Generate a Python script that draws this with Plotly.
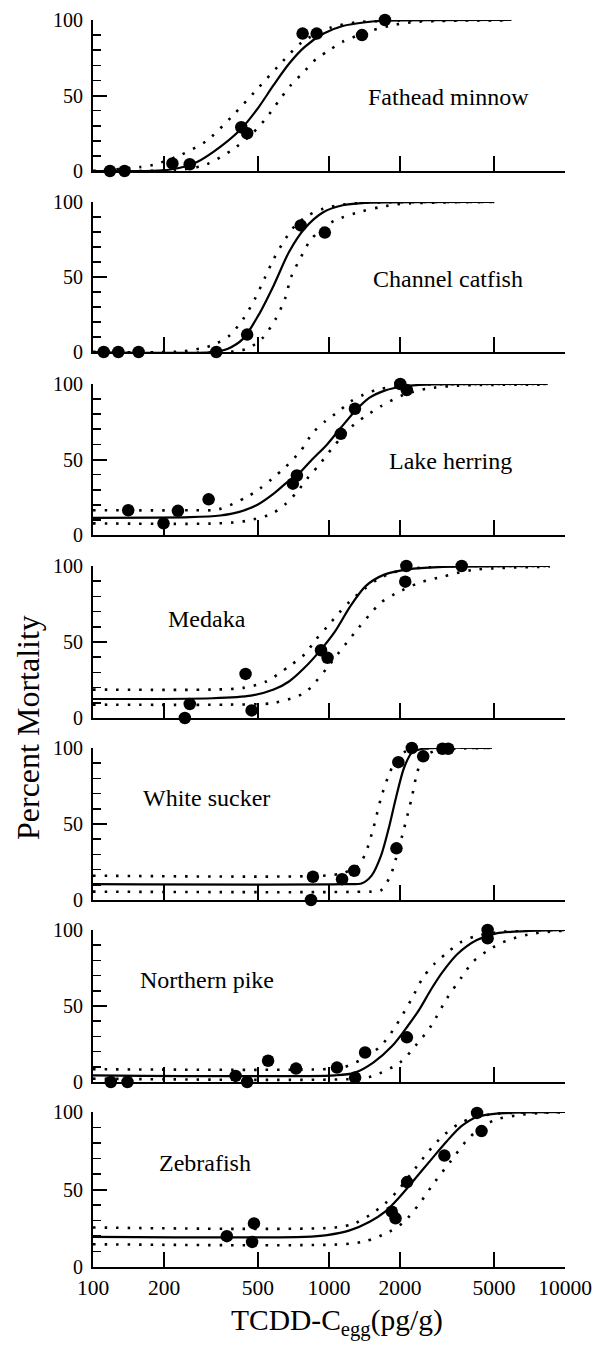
import numpy as np
import plotly.graph_objects as go

# ---------------- data ----------------
species = ["Fathead minnow", "Channel catfish", "Lake herring", "Medaka",
           "White sucker", "Northern pike", "Zebrafish"]

tick_vals = [100, 200, 500, 1000, 2000, 5000, 10000]
tick_text = ["100", "200", "500", "1000", "2000", "5000", "10000"]

# Fathead minnow
fathead_x = [118, 136, 217, 257, 425, 450, 773, 887, 1380, 1726]
fathead_y = [0, 0, 5, 4.5, 29, 25, 91, 91, 90, 100]
fathead_fit_x = [100, 213, 276, 346, 425, 502, 583, 677, 787, 949, 1143, 1430, 1726, 5930]
fathead_fit_y = [0, 1, 6, 16, 28, 42, 57, 71, 82, 91, 96, 98.5, 99.5, 100]
fathead_hi_x = [100, 160, 183, 236, 303, 387, 488, 606, 773, 1020, 1300, 1920, 5660]
fathead_hi_y = [0, 2.7, 4.4, 10.7, 20, 36, 53, 69, 85.6, 95, 98.4, 99.6, 100]
fathead_lo_x = [100, 238, 303, 389, 467, 542, 616, 691, 787, 880, 1003, 1143, 1515, 1920, 2410, 5930]
fathead_lo_y = [0, 1, 4.4, 14, 24, 35, 47, 57, 66, 74, 80, 85.6, 93, 97, 98.9, 99.8]

# Channel catfish
catfish_x = [111, 128, 156, 333, 450, 759, 960]
catfish_y = [0, 0, 0, 0, 11.6, 84.4, 79.6]
catfish_fit_x = [100, 321, 373, 433, 502, 583, 677, 787, 949, 1143, 1380, 5012]
catfish_fit_y = [0, 0, 2.2, 8.9, 24.4, 44.4, 66.7, 82.2, 93.3, 97.8, 99.3, 100]
catfish_hi_x = [100, 237, 298, 333, 379, 433, 486, 533, 583, 639, 716, 816, 949, 1143, 1430, 5012]
catfish_hi_y = [0, 0.4, 3, 5.6, 11, 22, 35.6, 49, 62, 73, 84, 91, 95.6, 98.2, 99.5, 100]
catfish_lo_x = [100, 373, 450, 521, 594, 651, 691, 759, 833, 931, 1061, 1380, 1660, 2080, 5012]
catfish_lo_y = [0, 0, 2.2, 9, 22, 35.6, 50, 63, 74.4, 82, 87.8, 93.8, 96.7, 98.9, 100]

# Lake herring
herring_x = [141, 199, 229, 309, 703, 731, 1122, 1288, 2004, 2136]
herring_y = [16.4, 7.7, 16, 23.6, 34, 39.4, 67, 83.6, 100, 96]
herring_fit_x = [100, 257, 346, 417, 502, 583, 677, 731, 848, 982, 1122, 1288, 1480, 1720, 2080, 2600, 8450]
herring_fit_y = [11.4, 11.8, 12.9, 15.3, 20.4, 27.4, 36, 39.4, 50, 60, 71, 82, 90.8, 95.6, 98.5, 99.6, 100]
herring_hi_x = [100, 257, 340, 449, 508, 573, 653, 759, 855, 967, 1102, 1241, 1405, 1602, 1932, 2418, 8450]
herring_hi_y = [16.4, 16.4, 17, 25.2, 30.6, 37.2, 44.9, 55.8, 67.8, 75.5, 82, 88.6, 93, 96.3, 98.5, 99.6, 100]
herring_lo_x = [100, 340, 449, 573, 653, 731, 818, 914, 1024, 1143, 1279, 1431, 1663, 2080, 2605, 3510, 8450]
herring_lo_y = [7.7, 7.7, 9.4, 14.2, 20.4, 28.4, 38.3, 47, 56.9, 65.6, 73.3, 78.8, 85.3, 93, 96.9, 98.9, 99.6]

# Medaka
medaka_x = [245, 257, 443, 470, 925, 986, 2127, 2104, 3650]
medaka_y = [0, 9.2, 29, 5, 44.6, 39.6, 100, 89.7, 100]
medaka_fit_x = [100, 321, 467, 583, 677, 787, 913, 1061, 1232, 1430, 1726, 2160, 2910, 8610]
medaka_fit_y = [12.5, 13, 14.7, 18.7, 24, 33, 44, 57, 73.6, 86.8, 94.5, 97.8, 99.3, 100]
medaka_hi_x = [100, 321, 433, 542, 677, 787, 880, 982, 1101, 1232, 1405, 1600, 1860, 2240, 2910, 8610]
medaka_hi_y = [18.7, 18.7, 19.8, 24, 34, 41.8, 51.6, 60, 69, 77, 84.6, 91, 95.6, 98.2, 99.6, 100]
medaka_lo_x = [100, 373, 583, 787, 880, 982, 1101, 1188, 1330, 1487, 1660, 1920, 2420, 3030, 4070, 8610]
medaka_lo_y = [8.8, 8.8, 9.9, 16.5, 24, 33, 43, 49.5, 59, 68, 76, 82, 89, 93, 97.4, 99.6]

# White sucker
sucker_x = [855, 839, 1136, 1279, 1931, 1967, 2243, 2507, 3024, 3200]
sucker_y = [15.3, 0, 13.7, 19.2, 34, 90.7, 100, 94.5, 99.5, 99.5]
sucker_fit_x = [100, 1143, 1380, 1515, 1660, 1790, 1920, 2080, 2240, 2507, 4900]
sucker_fit_y = [10.4, 10.4, 11, 16, 29, 47, 67, 87, 96.7, 99.5, 100]
sucker_hi_x = [100, 948, 1143, 1330, 1430, 1540, 1660, 1790, 1920, 2110, 2410, 4900]
sucker_hi_y = [16, 16, 17.7, 22.6, 31, 47, 67, 82, 92, 97.8, 99.6, 100]
sucker_lo_x = [100, 1380, 1660, 1820, 1920, 2080, 2240, 2370, 2507, 2810, 3500, 4900]
sucker_lo_y = [5.5, 5.5, 6.4, 16, 27, 47, 67, 84.5, 93.4, 98.2, 99.6, 100]

# Northern pike
pike_x = [119, 140, 402, 450, 552, 725, 1081, 1290, 1422, 2138, 4700, 4700]
pike_y = [0, 0, 4, 0, 14, 8.8, 9.5, 2.9, 19.4, 29.4, 100, 94.5]
pike_fit_x = [100, 1061, 1279, 1540, 1860, 2160, 2420, 2710, 3030, 3520, 4230, 5120, 6880, 10000]
pike_fit_y = [4.4, 4.4, 6, 12.8, 24, 37, 48, 61, 72.4, 84.5, 93.4, 97.8, 99.3, 100]
pike_hi_x = [100, 948, 1143, 1380, 1660, 1920, 2240, 2510, 2810, 3200, 3650, 4230, 5520, 7430, 10000]
pike_hi_y = [8.4, 8.4, 9.5, 15, 23.8, 37, 54.7, 69, 78, 85.7, 92.3, 96.2, 98.9, 99.8, 100]
pike_lo_x = [100, 1330, 1540, 2000, 2330, 2710, 3150, 3650, 4070, 4740, 5740, 7430, 10000]
pike_lo_y = [2.2, 2.2, 4, 12.8, 24, 37, 54.7, 69, 79, 86.8, 93.4, 97.8, 99.6]

# Zebrafish
zebra_x = [369, 481, 472, 1845, 2143, 1914, 3083, 4240, 4430]
zebra_y = [19.9, 28.1, 16.2, 35.7, 54.8, 31.4, 71.9, 99.4, 87.7]
zebra_fit_x = [100, 787, 982, 1232, 1487, 1730, 2000, 2330, 2710, 3150, 3650, 4230, 5120, 10000]
zebra_fit_y = [19.5, 19.5, 20.6, 23.8, 29.2, 35.7, 45.5, 57.4, 69.3, 81, 91, 96.8, 99, 100]
zebra_hi_x = [100, 1061, 1279, 1487, 1730, 1940, 2240, 2610, 3030, 3520, 4080, 5120, 10000]
zebra_hi_y = [25.5, 25.5, 28, 33.5, 41, 48.7, 60.6, 73.6, 84.4, 92, 96.3, 98.9, 100]
zebra_lo_x = [100, 1143, 1430, 1800, 2080, 2420, 2810, 3270, 3800, 4400, 5120, 6370, 8000, 10000]
zebra_lo_y = [14.7, 14.7, 16.7, 22.7, 29.2, 41, 55, 68, 81, 90, 95.2, 98, 99.4, 99.8]

# species label positions (x in pg/g, y in %)
label_x = [3220, 3190, 3260, 304, 304, 304, 298]
label_y = [49, 49, 49, 65, 67, 67, 67]

# ---------------- figure ----------------
panels = [
    (fathead_x, fathead_y, fathead_fit_x, fathead_fit_y, fathead_hi_x, fathead_hi_y, fathead_lo_x, fathead_lo_y),
    (catfish_x, catfish_y, catfish_fit_x, catfish_fit_y, catfish_hi_x, catfish_hi_y, catfish_lo_x, catfish_lo_y),
    (herring_x, herring_y, herring_fit_x, herring_fit_y, herring_hi_x, herring_hi_y, herring_lo_x, herring_lo_y),
    (medaka_x, medaka_y, medaka_fit_x, medaka_fit_y, medaka_hi_x, medaka_hi_y, medaka_lo_x, medaka_lo_y),
    (sucker_x, sucker_y, sucker_fit_x, sucker_fit_y, sucker_hi_x, sucker_hi_y, sucker_lo_x, sucker_lo_y),
    (pike_x, pike_y, pike_fit_x, pike_fit_y, pike_hi_x, pike_hi_y, pike_lo_x, pike_lo_y),
    (zebra_x, zebra_y, zebra_fit_x, zebra_fit_y, zebra_hi_x, zebra_hi_y, zebra_lo_x, zebra_lo_y),
]

W, H = 598, 1348
FONT = "Liberation Serif, Times New Roman, serif"
tops = [20, 202, 384, 566, 748, 930, 1112]
bottoms = [171, 352, 535, 718, 900, 1082, 1267]
x_dom = [93 / W, 565 / W]

fig = go.Figure()
layout = dict(
    width=W, height=H,
    margin=dict(l=0, r=0, t=0, b=0),
    paper_bgcolor="white", plot_bgcolor="white",
    showlegend=False,
    font=dict(family=FONT, color="black", size=20),
)

DOT = "2.5px,9px"
for i, (px, py, fx, fy, hx, hy, lx, ly) in enumerate(panels):
    n = i + 1
    xa = "x" if n == 1 else f"x{n}"
    ya = "y" if n == 1 else f"y{n}"
    common = dict(xaxis=xa, yaxis=ya, cliponaxis=False, hoverinfo="skip")
    fig.add_trace(go.Scatter(x=hx, y=hy, mode="lines",
                             line=dict(color="black", width=2.6, dash=DOT, shape="spline", smoothing=0.8),
                             **common))
    fig.add_trace(go.Scatter(x=lx, y=ly, mode="lines",
                             line=dict(color="black", width=2.6, dash=DOT, shape="spline", smoothing=0.8),
                             **common))
    fig.add_trace(go.Scatter(x=fx, y=fy, mode="lines",
                             line=dict(color="black", width=2.2, shape="spline", smoothing=0.8),
                             **common))
    fig.add_trace(go.Scatter(x=px, y=py, mode="markers",
                             marker=dict(color="black", size=12.5, line=dict(width=0)),
                             **common))

    last = (n == 7)
    key_x = "xaxis" if n == 1 else f"xaxis{n}"
    key_y = "yaxis" if n == 1 else f"yaxis{n}"
    layout[key_x] = dict(
        domain=x_dom, anchor=ya, type="log", range=[2, 4],
        tickvals=tick_vals, ticktext=tick_text, showticklabels=last,
        ticks="inside", ticklen=15, tickwidth=2, tickcolor="black",
        showline=True, linewidth=2, linecolor="black",
        showgrid=False, zeroline=False,
        tickfont=dict(family=FONT, size=21.5, color="black"),
        automargin=False,
    )
    layout[key_y] = dict(
        domain=[1 - bottoms[i] / H, 1 - tops[i] / H], anchor=xa, range=[0, 100],
        tickvals=[0, 50, 100], ticktext=["0", "50", "100"],
        ticks="inside", ticklen=14, tickwidth=2, tickcolor="black",
        minor=dict(dtick=10, ticks="inside", ticklen=8, tickwidth=1.6, tickcolor="black"),
        showline=True, linewidth=2, linecolor="black",
        showgrid=False, zeroline=False,
        tickfont=dict(family=FONT, size=20, color="black"),
        ticklabelstandoff=4,
        automargin=False,
    )

fig.update_layout(**layout)

for i, name in enumerate(species):
    n = i + 1
    fig.add_annotation(
        x=np.log10(label_x[i]), y=label_y[i],
        xref="x" if n == 1 else f"x{n}", yref="y" if n == 1 else f"y{n}",
        text=name, showarrow=False,
        font=dict(family=FONT, size=24, color="black"),
        xanchor="center", yanchor="middle",
    )

fig.add_annotation(
    x=28 / W, y=1 - 728 / H, xref="paper", yref="paper",
    text="Percent Mortality", textangle=-90, showarrow=False,
    font=dict(family=FONT, size=32, color="black"),
    xanchor="center", yanchor="middle",
)
fig.add_annotation(
    x=337 / W, y=1 - 1322 / H, xref="paper", yref="paper",
    text="TCDD-C<sub>egg</sub>(pg/g)", showarrow=False,
    font=dict(family=FONT, size=29.5, color="black"),
    xanchor="center", yanchor="middle",
)

fig.write_html("out.html",
               config={"displayModeBar": False, "staticPlot": True},
               post_script="document.body.style.margin='0';document.body.style.padding='0';")
